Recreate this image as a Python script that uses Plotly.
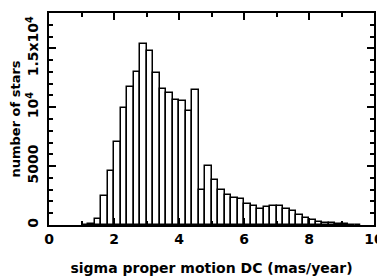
import plotly.graph_objects as go

bin_left = [1.0, 1.2, 1.4, 1.6, 1.8, 2.0, 2.2, 2.4, 2.6, 2.8,
            3.0, 3.2, 3.4, 3.6, 3.8, 4.0, 4.2, 4.4, 4.6, 4.8,
            5.0, 5.2, 5.4, 5.6, 5.8, 6.0, 6.2, 6.4, 6.6, 6.8,
            7.0, 7.2, 7.4, 7.6, 7.8, 8.0, 8.2, 8.4, 8.6, 8.8,
            9.0, 9.2, 9.4]
counts = [0, 80, 500, 2480, 4580, 7060, 9970, 11720, 12970, 15400,
          14800, 12900, 11580, 11210, 10590, 10500, 9720, 11460, 2980, 5020,
          3790, 2940, 2520, 2300, 2180, 1820, 1610, 1400, 1540, 1620,
          1620, 1400, 1190, 820, 620, 420, 280, 200, 150, 110,
          80, 40, 20]
bin_width = 0.2

x_tickvals = [0, 2, 4, 6, 8, 10]
x_ticktext = ["0", "2", "4", "6", "8", "10"]
y_tickvals = [0, 5000, 10000, 15000]
y_ticktext = ["0", "5000", "10<sup>4</sup>", "1.5x10<sup>4</sup>"]

fig = go.Figure(go.Bar(
    x=bin_left, y=counts, width=bin_width, offset=0,
    marker=dict(color="white", line=dict(color="black", width=1.5)),
))

tick_font = dict(family="DejaVu Sans", size=14, color="black", weight="bold")
xtitle_font = dict(family="DejaVu Sans", size=14, color="black", weight="bold")
ytitle_font = dict(family="DejaVu Sans", size=13, color="black", weight="bold")

# page body has an 8px margin, so the figure is sized to fit the window
fig.update_layout(
    width=377, height=268,
    margin=dict(l=41, r=11, t=5, b=51, autoexpand=False),
    paper_bgcolor="white", plot_bgcolor="white",
    font=tick_font,
    bargap=0, showlegend=False,
)
fig.update_xaxes(
    range=[0, 10], tickvals=x_tickvals, ticktext=x_ticktext,
    automargin=False,
    showgrid=False, zeroline=False,
    showline=True, linecolor="black", linewidth=2, mirror="ticks",
    ticks="inside", ticklen=7, tickwidth=1.5, tickcolor="black",
    minor=dict(dtick=1, ticks="inside", ticklen=4, tickwidth=1.5, tickcolor="black"),
    title=dict(text="sigma proper motion DC (mas/year)", standoff=20, font=xtitle_font),
    tickfont=tick_font,
)
fig.update_yaxes(
    range=[0, 18000], tickvals=y_tickvals, ticktext=y_ticktext,
    automargin=False,
    showgrid=False, zeroline=False,
    showline=True, linecolor="black", linewidth=2, mirror="ticks",
    ticks="inside", ticklen=7, tickwidth=1.5, tickcolor="black",
    minor=dict(dtick=1000, ticks="inside", ticklen=4, tickwidth=1.5, tickcolor="black"),
    tickangle=-90, ticklabelstandoff=3,
    title=dict(text="number of stars", standoff=4, font=ytitle_font),
    tickfont=tick_font,
)

fig.write_html("out.html")
